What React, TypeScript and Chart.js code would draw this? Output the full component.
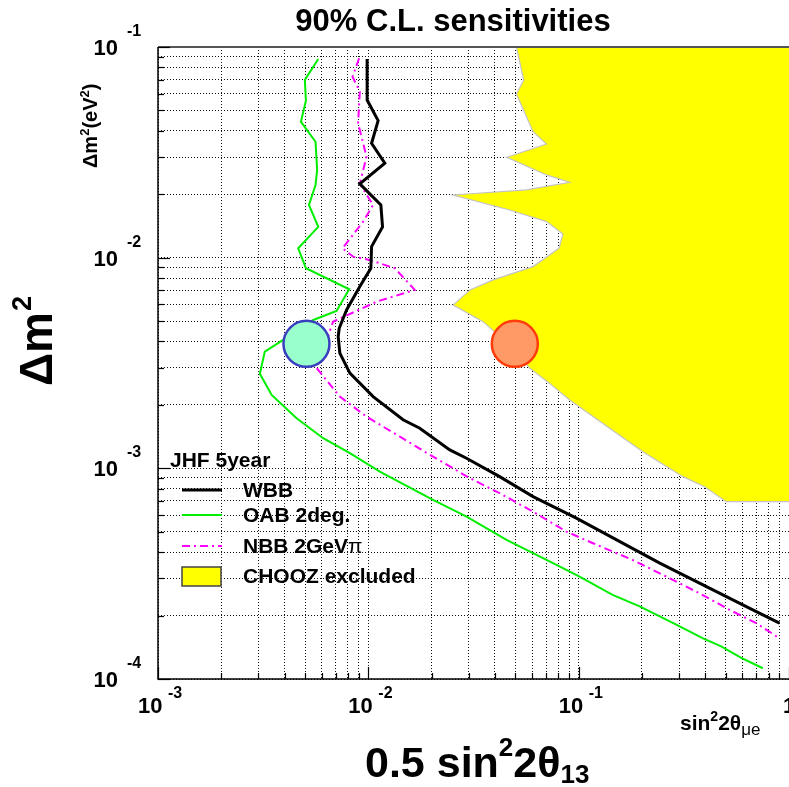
import React, { useEffect, useRef } from 'react';
import { Chart, registerables } from 'chart.js';

Chart.register(...registerables);

const FONT = '"Liberation Sans", Arial, Helvetica, sans-serif';

// ---- data ----
const wbbX = [0.00987, 0.00987, 0.01113, 0.01036, 0.01198, 0.00911, 0.01147, 0.01168, 0.01036, 0.01028, 0.00911, 0.00788, 0.00727, 0.00719, 0.00732, 0.00817, 0.01054, 0.01463, 0.01756, 0.0244, 0.0293, 0.0421, 0.0607, 0.0975, 0.157, 0.243, 0.39, 0.603, 0.901];
const wbbY = [0.0877, 0.056, 0.0447, 0.0349, 0.0281, 0.0224, 0.0178, 0.014, 0.01128, 0.00891, 0.00729, 0.00565, 0.00462, 0.00422, 0.00352, 0.00283, 0.00219, 0.0017, 0.00155, 0.001223, 0.001117, 0.000913, 0.000734, 0.00058, 0.000449, 0.000355, 0.00028, 0.000225, 0.000184];

const oabX = [0.00578, 0.00499, 0.00505, 0.00478, 0.00561, 0.00571, 0.00561, 0.00522, 0.00578, 0.00464, 0.00505, 0.00811, 0.00706, 0.00547, 0.00394, 0.00322, 0.00305, 0.00347, 0.00456, 0.0061, 0.00817, 0.01134, 0.0203, 0.0293, 0.0454, 0.0755, 0.101, 0.145, 0.195, 0.291, 0.39, 0.476, 0.593, 0.751];
const oabY = [0.0877, 0.0697, 0.0556, 0.0442, 0.0355, 0.0261, 0.0221, 0.0178, 0.014, 0.01108, 0.00891, 0.00708, 0.005585, 0.00506, 0.00407, 0.00358, 0.00281, 0.00223, 0.00173, 0.00139, 0.00118, 0.000964, 0.000708, 0.00059, 0.000457, 0.000355, 0.000306, 0.000251, 0.000221, 0.000181, 0.000156, 0.000143, 0.000126, 0.0001125];

const nbbX = [0.00904, 0.00841, 0.00911, 0.00894, 0.0098, 0.00911, 0.01054, 0.00945, 0.00754, 0.00847, 0.01016, 0.01336, 0.01663, 0.01094, 0.0068, 0.00568, 0.00732, 0.0098, 0.01411, 0.0203, 0.0304, 0.0421, 0.0607, 0.0874, 0.117, 0.181, 0.2515, 0.376, 0.522, 0.699, 0.901];
const nbbY = [0.0884, 0.0723, 0.0614, 0.0434, 0.0302, 0.0224, 0.0178, 0.01483, 0.01108, 0.01011, 0.00975, 0.00891, 0.00703, 0.00618, 0.00497, 0.00299, 0.00219, 0.00176, 0.001414, 0.001136, 0.000898, 0.000762, 0.000623, 0.000501, 0.000441, 0.000367, 0.000312, 0.000255, 0.000213, 0.000184, 0.000156];

const choozX = [0.0506, 0.0548, 0.0506, 0.0607, 0.0703, 0.0456, 0.0703, 0.0906, 0.0564, 0.0253, 0.047, 0.0703, 0.0842, 0.0806, 0.0607, 0.0392, 0.0304, 0.0253, 0.0351, 0.047, 0.0585, 0.0728, 0.0906, 0.202, 0.313, 0.397, 0.503, 1.05];
const choozY = [0.1, 0.0697, 0.0598, 0.0396, 0.0346, 0.02996, 0.0247, 0.0228, 0.02096, 0.01984, 0.01684, 0.01483, 0.01296, 0.01108, 0.00907, 0.00784, 0.00703, 0.00596, 0.00497, 0.00385, 0.00299, 0.00253, 0.00211, 0.0012, 0.000913, 0.000818, 0.000695, 0.000695];

const markerX = [0.00508, 0.0497];
const markerY = [0.0039, 0.0039];

const xTickValues = [1e-3, 1e-2, 1e-1, 1];
const xTickBase = ['10', '10', '10', '1'];
const xTickExp = ['-3', '-2', '-1', ''];
const yTickValues = [1e-4, 1e-3, 1e-2, 1e-1];
const yTickExp = ['-4', '-3', '-2', '-1'];

const legendLabels = ['WBB', 'OAB 2deg.', 'NBB 2GeV', 'CHOOZ excluded'];
const legendHeader = 'JHF 5year';
const titleText = '90% C.L. sensitivities';

const pts = (xs: number[], ys: number[]) => xs.map((x, i) => ({ x, y: ys[i] }));

function logTicks(min: number, max: number) {
  const t: { value: number }[] = [];
  const e0 = Math.round(Math.log10(min));
  const e1 = Math.round(Math.log10(max));
  for (let e = e0; e < e1; e++) {
    for (let m = 1; m < 10; m++) t.push({ value: parseFloat((m * Math.pow(10, e)).toPrecision(6)) });
  }
  t.push({ value: max });
  return t;
}

const isMajor = (v: number) => Math.abs(Math.log10(v) - Math.round(Math.log10(v))) < 1e-6;

function setFont(ctx: CanvasRenderingContext2D, size: number, weight = 'bold') {
  ctx.font = `${weight} ${size}px ${FONT}`;
}
function put(ctx: CanvasRenderingContext2D, s: string, x: number, y: number, size: number, weight = 'bold') {
  setFont(ctx, size, weight);
  ctx.fillText(s, x, y);
  return ctx.measureText(s).width;
}

const decorPlugin = {
  id: 'decor',
  afterDraw(chart: any) {
    const ctx: CanvasRenderingContext2D = chart.ctx;
    const a = chart.chartArea;
    const xs = chart.scales.x;
    const ys = chart.scales.y;
    ctx.save();
    ctx.setLineDash([]);
    // frame
    ctx.strokeStyle = '#000';
    ctx.lineWidth = 1.5;
    ctx.beginPath();
    ctx.moveTo(a.left, a.top);
    ctx.lineTo(a.left, a.bottom);
    ctx.lineTo(a.right, a.bottom);
    ctx.stroke();
    ctx.strokeStyle = '#555';
    ctx.lineWidth = 2;
    ctx.beginPath();
    ctx.moveTo(a.left, a.top);
    ctx.lineTo(a.right, a.top);
    ctx.stroke();
    // inward tick marks
    ctx.strokeStyle = '#000';
    ctx.lineWidth = 1.2;
    xs.ticks.forEach((t: any) => {
      const p = Math.round(xs.getPixelForValue(t.value)) + 0.5;
      const L = isMajor(t.value) ? 12 : 6;
      ctx.beginPath();
      ctx.moveTo(p, a.bottom);
      ctx.lineTo(p, a.bottom - L);
      ctx.stroke();
    });
    ys.ticks.forEach((t: any) => {
      const p = Math.round(ys.getPixelForValue(t.value)) + 0.5;
      const L = isMajor(t.value) ? 12 : 6;
      ctx.beginPath();
      ctx.moveTo(a.left, p);
      ctx.lineTo(a.left + L, p);
      ctx.stroke();
    });

    ctx.fillStyle = '#000';
    ctx.textBaseline = 'alphabetic';
    // x tick labels
    xTickValues.forEach((v, i) => {
      const p = xs.getPixelForValue(v);
      if (xTickExp[i]) {
        ctx.textAlign = 'left';
        put(ctx, xTickBase[i], p - 20, 713, 22);
        put(ctx, xTickExp[i], p + 10, 698, 16);
      } else {
        ctx.textAlign = 'center';
        put(ctx, xTickBase[i], p, 713, 22);
      }
    });
    // y tick labels
    yTickValues.forEach((v, i) => {
      const p = ys.getPixelForValue(v);
      ctx.textAlign = 'right';
      put(ctx, '10', a.left - 40, p + 8, 22);
      ctx.textAlign = 'left';
      put(ctx, yTickExp[i], a.left - 31, p - 11, 16);
    });

    // title
    ctx.textAlign = 'center';
    put(ctx, titleText, 453, 31, 31);

    // x axis small label
    ctx.textAlign = 'left';
    let x = 680;
    x += put(ctx, 'sin', x, 730, 21);
    x += put(ctx, '2', x, 721, 14);
    x += put(ctx, '2\u03B8', x, 730, 21);
    put(ctx, '\u03BCe', x, 735, 17, 'normal');

    // x axis big title
    x = 365;
    x += put(ctx, '0.5 sin', x, 777, 43);
    x += put(ctx, '2', x, 756, 26);
    x += put(ctx, '2\u03B8', x, 777, 43);
    put(ctx, '13', x, 783, 26);

    // y axis big title (rotated)
    ctx.save();
    ctx.translate(52, 386);
    ctx.rotate(-Math.PI / 2);
    const w = put(ctx, '\u0394m', 0, 0, 46);
    put(ctx, '2', w + 1, -21, 27);
    ctx.restore();

    // y axis small label (rotated)
    ctx.save();
    ctx.translate(97, 168);
    ctx.rotate(-Math.PI / 2);
    let u = 0;
    u += put(ctx, '\u0394m', u, 0, 20);
    u += put(ctx, '2', u, -8, 13);
    u += put(ctx, '(eV', u, 0, 20);
    u += put(ctx, '2', u, -8, 13);
    put(ctx, ')', u, 0, 20);
    ctx.restore();

    // legend
    ctx.textAlign = 'left';
    put(ctx, legendHeader, 170, 467, 21);
    const rows = [497, 522, 553, 583];
    const lineY = [490, 515, 546, 576];
    ctx.lineWidth = 3;
    ctx.strokeStyle = '#000';
    ctx.beginPath(); ctx.moveTo(182, lineY[0]); ctx.lineTo(222, lineY[0]); ctx.stroke();
    ctx.lineWidth = 2;
    ctx.strokeStyle = '#00ee00';
    ctx.beginPath(); ctx.moveTo(182, lineY[1]); ctx.lineTo(222, lineY[1]); ctx.stroke();
    ctx.strokeStyle = '#ff00ff';
    ctx.setLineDash([8, 4, 2, 4]);
    ctx.beginPath(); ctx.moveTo(182, lineY[2]); ctx.lineTo(222, lineY[2]); ctx.stroke();
    ctx.setLineDash([]);
    ctx.fillStyle = '#ffff00';
    ctx.fillRect(182, 567, 39, 19);
    ctx.strokeStyle = '#444';
    ctx.lineWidth = 1.5;
    ctx.strokeRect(182, 567, 39, 19);
    ctx.fillStyle = '#000';
    legendLabels.forEach((s, i) => {
      const ww = put(ctx, s, 243, rows[i], 21);
      if (i === 2) put(ctx, '\u03C0', 243 + ww, rows[i], 21, 'normal');
    });
    ctx.restore();
  },
};

export default function App() {
  const ref = useRef<HTMLCanvasElement>(null);
  useEffect(() => {
    const gridCommon = { color: '#111', lineWidth: 1, drawTicks: false };
    const chart = new Chart(ref.current as HTMLCanvasElement, {
      type: 'scatter',
      data: {
        datasets: [
          {
            label: 'marker1',
            data: [{ x: markerX[0], y: markerY[0] }],
            pointRadius: 23,
            pointBackgroundColor: '#99ffcc',
            pointBorderColor: '#3a3fbf',
            pointBorderWidth: 2.5,
            showLine: false,
          },
          {
            label: 'marker2',
            data: [{ x: markerX[1], y: markerY[1] }],
            pointRadius: 23,
            pointBackgroundColor: '#ff9966',
            pointBorderColor: '#ff3c0a',
            pointBorderWidth: 2.5,
            showLine: false,
          },
          {
            label: 'WBB',
            data: pts(wbbX, wbbY),
            showLine: true,
            borderColor: '#000',
            borderWidth: 3,
            pointRadius: 0,
            tension: 0,
          },
          {
            label: 'OAB 2deg.',
            data: pts(oabX, oabY),
            showLine: true,
            borderColor: '#00ee00',
            borderWidth: 2,
            pointRadius: 0,
            tension: 0,
          },
          {
            label: 'NBB 2GeV',
            data: pts(nbbX, nbbY),
            showLine: true,
            borderColor: '#ff00ff',
            borderWidth: 2,
            borderDash: [8, 4, 2, 4],
            pointRadius: 0,
            tension: 0,
          },
          {
            label: 'CHOOZ edge',
            data: pts(choozX, choozY),
            showLine: true,
            borderColor: '#c4c4c4',
            borderWidth: 1.2,
            pointRadius: 0,
            tension: 0,
          },
          {
            label: 'CHOOZ excluded',
            data: [...pts(choozX, choozY), { x: 1.05, y: 0.1 }],
            showLine: true,
            borderColor: 'rgba(0,0,0,0)',
            borderWidth: 0,
            backgroundColor: '#ffff00',
            fill: 'shape',
            pointRadius: 0,
            tension: 0,
          },
        ],
      },
      options: {
        responsive: false,
        animation: false,
        devicePixelRatio: 1,
        events: [],
        layout: { autoPadding: false, padding: { left: 158, right: 0, top: 47, bottom: 108 } },
        plugins: {
          legend: { display: false },
          tooltip: { enabled: false },
          title: { display: false },
        },
        scales: {
          x: {
            type: 'logarithmic',
            min: 1e-3,
            max: 1,
            afterBuildTicks: (s: any) => { s.ticks = logTicks(1e-3, 1); },
            ticks: { display: false, autoSkip: false },
            grid: gridCommon,
            border: { display: false, dash: [1, 2] },
          },
          y: {
            type: 'logarithmic',
            min: 1e-4,
            max: 1e-1,
            afterBuildTicks: (s: any) => { s.ticks = logTicks(1e-4, 1e-1); },
            ticks: { display: false, autoSkip: false },
            grid: gridCommon,
            border: { display: false, dash: [1, 2] },
          },
        },
      },
      plugins: [decorPlugin],
    } as any);
    return () => chart.destroy();
  }, []);
  return (
    <div style={{ position: 'fixed', left: 0, top: 0, width: 789, height: 787, background: '#fff' }}>
      <canvas ref={ref} width={789} height={787} style={{ display: 'block' }} />
    </div>
  );
}
